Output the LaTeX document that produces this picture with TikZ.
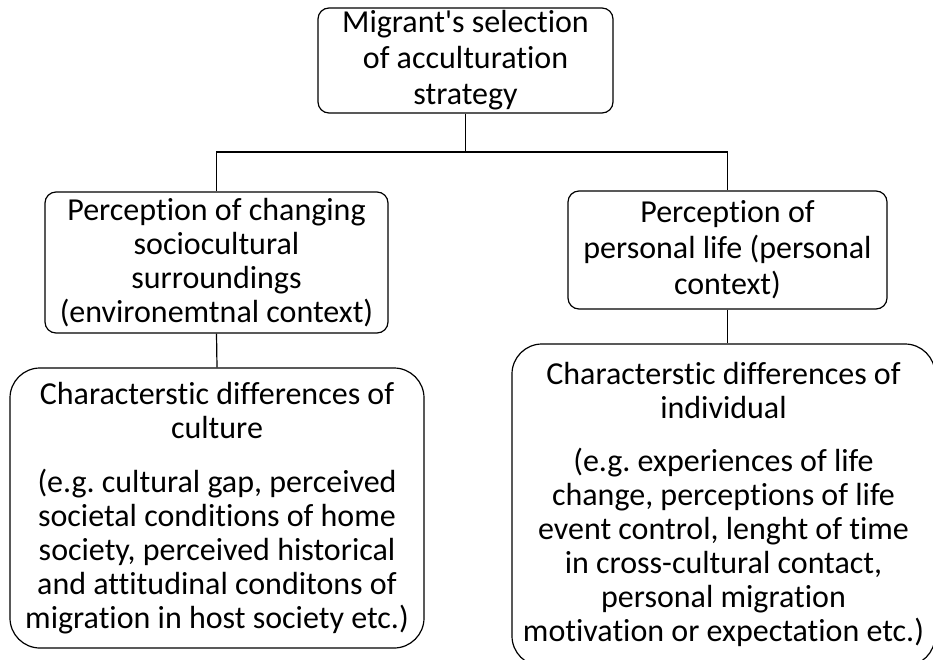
\documentclass[tikz,border=0pt]{standalone}
\usepackage{fontspec}
\setmainfont{Carlito}[Ligatures={NoCommon}]
\begin{document}
\frenchspacing
\begin{tikzpicture}[x=1pt,y=-1pt,
  txt/.style={align=center, inner sep=0pt, font=\fontsize{32}{34}\selectfont},
  loose/.style={font=\fontsize{32}{36}\selectfont},
  box/.style={txt, draw, line width=1.2pt},
  smallbox/.style={box, rounded corners=11pt},
  bigbox/.style={box, rounded corners=30pt},
  conn/.style={line width=1.2pt}]
\useasboundingbox (0,0) rectangle (933,659);
\clip (0,0) rectangle (933,659);

% top level
\node[smallbox, loose, minimum width=295pt, minimum height=105pt] (top) at (465.5,60.5)
  {Migrant\textquotesingle s selection\\of acculturation\\strategy};

% second level
\node[smallbox, minimum width=343pt, minimum height=141pt] (lmid) at (216.5,262.5)
  {Perception of changing\\sociocultural\\surroundings\\(environemtnal context)};
\node[smallbox, loose, minimum width=319pt, minimum height=118pt] (rmid) at (727.5,250)
  {Perception of\\personal life (personal\\context)};

% third level
\node[bigbox, minimum width=414pt, minimum height=280pt] (lbot) at (217,508)
  {Characterstic differences of\\culture\\[20pt](e.g. cultural gap, perceived\\societal conditions of home\\society, perceived historical\\and attitudinal conditons of\\migration in host society etc.)};
\node[bigbox, minimum width=423pt, minimum height=322pt] (rbot) at (723.5,505) {};
\node[txt] (rbottxt) at (723.5,504)
  {Characterstic differences of\\individual\\[19pt](e.g. experiences of life\\change, perceptions of life\\event control, lenght of time\\in cross-cultural contact,\\personal migration\\motivation or expectation etc.)};

% connectors
\coordinate (bus) at (0,152);
\draw[conn] (top.south) -- (top.south |- bus) -| (lmid.north);
\draw[conn] (top.south |- bus) -| (rmid.north);
\draw[conn] (lmid.south) -- (lbot.north);
\draw[conn] (rmid.south) -- (rmid.south |- rbot.north);
\end{tikzpicture}
\end{document}
